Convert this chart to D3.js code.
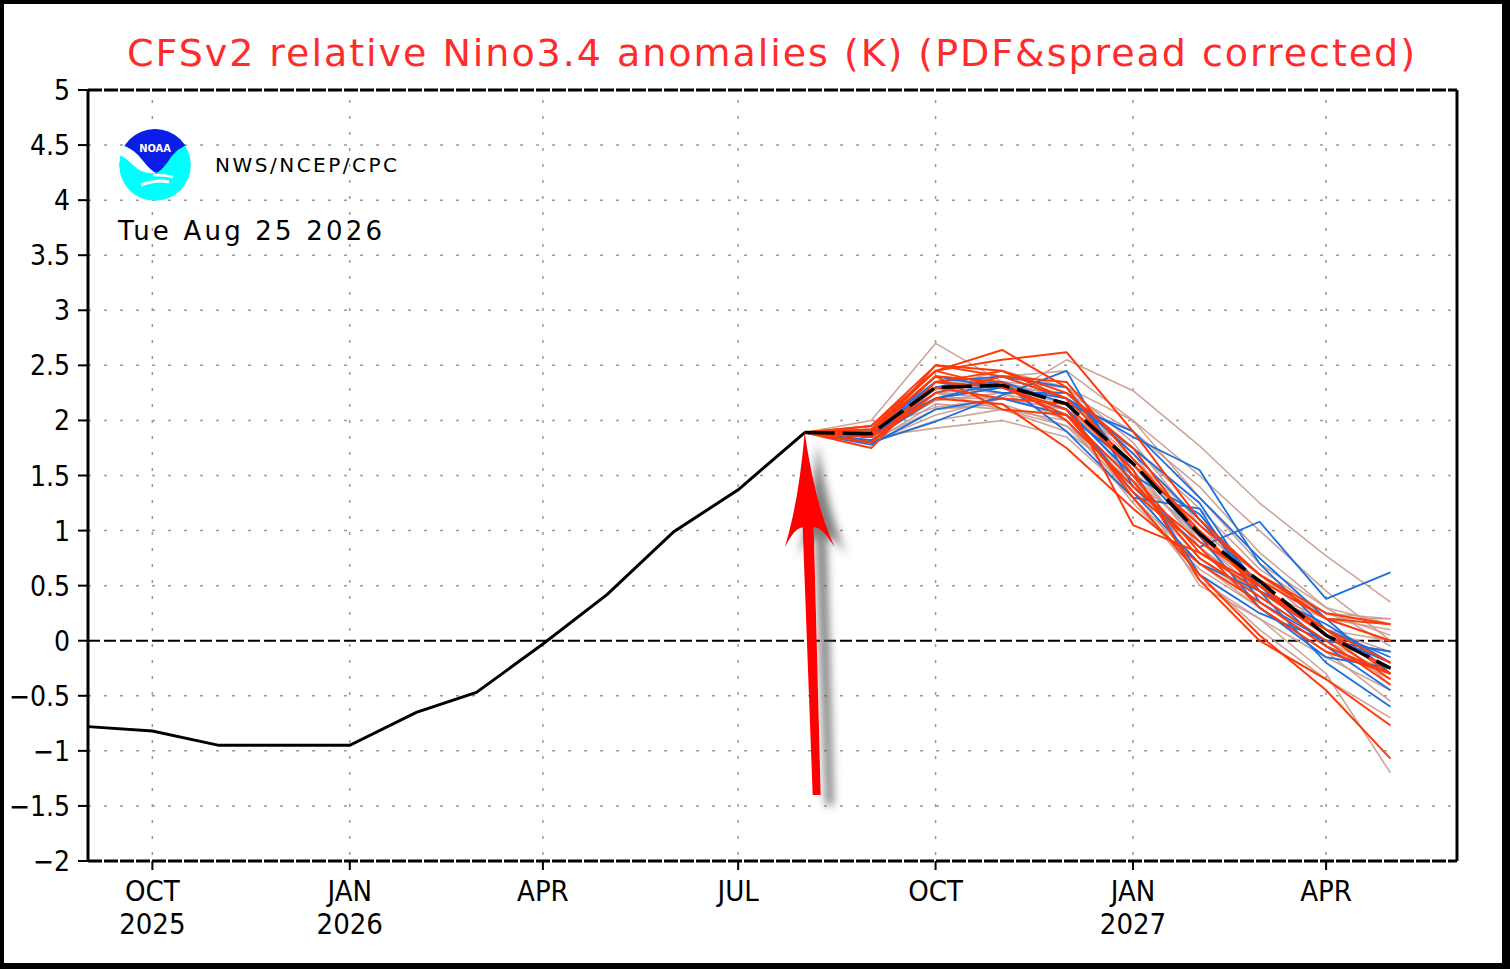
<!DOCTYPE html>
<html lang='en'>
  <head>
    <meta charset="utf-8">
    <title>CFSv2 Nino3.4</title>

    <style>
      body { margin: 0; background: #000000; }
      text {
            font-family: "DejaVu Sans Condensed", "DejaVu Sans", sans-serif;
            fill: #000000;
      }
    </style>

    <!-- Load d3.js -->
    <script src="https://d3js.org/d3.v7.min.js"></script>
  </head>

  <body>

    <div id="plume"></div>

  <script>

    // observed monthly anomalies (K)
    var obsMonths = ["2025-09", "2025-10", "2025-11", "2025-12", "2026-01", "2026-02",
                     "2026-03", "2026-04", "2026-05", "2026-06", "2026-07", "2026-08"];
    var obsValues = [-0.78, -0.82, -0.95, -0.95, -0.95, -0.65, -0.47, -0.03, 0.42, 0.99, 1.37, 1.89];

    // forecast months (first one is the last observed month)
    var fcstMonths = ["2026-08", "2026-09", "2026-10", "2026-11", "2026-12", "2027-01",
                      "2027-02", "2027-03", "2027-04", "2027-05"];
    var meanValues = [1.89, 1.88, 2.30, 2.32, 2.15, 1.61, 0.97, 0.54, 0.05, -0.25];

    // ensemble members, Sep 2026 .. May 2027
    var redMembers = [
      [1.95, 2.45, 2.64, 2.30, 1.50, 0.80, 0.45, 0.10, -0.30],
      [1.90, 2.45, 2.55, 2.62, 1.90, 1.10, 0.60, 0.20, 0.15],
      [1.85, 2.50, 2.40, 2.20, 1.05, 0.80, 0.50, 0.05, -0.35],
      [1.75, 2.35, 2.30, 2.10, 1.30, 0.60, 0.05, -0.45, -1.07],
      [1.80, 2.30, 2.20, 2.15, 1.55, 0.55, 0.00, -0.35, -0.77],
      [1.90, 2.40, 2.35, 2.00, 1.40, 0.90, 0.55, 0.20, 0.00],
      [1.95, 2.50, 2.45, 2.25, 1.75, 0.95, 0.50, 0.10, -0.20],
      [1.85, 2.20, 2.15, 1.75, 1.20, 0.70, 0.35, -0.05, -0.30],
      [1.80, 2.35, 2.45, 2.20, 1.60, 1.05, 0.60, 0.25, 0.15],
      [1.88, 2.40, 2.10, 2.05, 1.45, 0.75, 0.40, 0.00, -0.40],
      [1.92, 2.45, 2.30, 2.05, 1.35, 0.85, 0.30, -0.10, -0.30],
      [1.80, 2.25, 2.40, 2.35, 1.65, 1.00, 0.45, 0.05, -0.25]
    ];
    var blueMembers = [
      [1.80, 1.99, 2.23, 2.45, 1.40, 0.85, 1.08, 0.38, 0.62],
      [1.85, 2.35, 2.40, 2.20, 1.75, 1.25, 0.45, 0.15, -0.20],
      [1.90, 2.30, 2.30, 2.10, 1.50, 1.15, 0.50, -0.05, -0.45],
      [1.82, 2.20, 2.35, 1.90, 1.30, 1.20, 0.35, 0.00, -0.10],
      [1.85, 2.40, 2.30, 2.20, 1.85, 1.55, 0.70, 0.10, -0.15],
      [1.78, 2.10, 2.20, 2.05, 1.60, 0.95, 0.30, -0.15, -0.25],
      [1.90, 2.35, 2.25, 2.25, 1.70, 1.10, 0.50, 0.05, -0.20],
      [1.85, 2.25, 2.40, 2.30, 1.55, 0.60, 0.25, 0.00, -0.10],
      [1.85, 2.30, 2.35, 2.15, 1.90, 1.30, 0.75, 0.20, -0.30],
      [1.90, 2.20, 2.30, 2.10, 1.35, 0.70, 0.45, -0.20, -0.60]
    ];
    var brownMembers = [
      [2.00, 2.70, 2.35, 2.20, 1.70, 0.90, 0.50, 0.10, 0.00],
      [1.85, 1.93, 2.00, 1.85, 1.30, 0.70, 0.30, -0.10, -0.55],
      [1.90, 2.20, 2.20, 2.55, 2.27, 1.77, 1.25, 0.77, 0.35],
      [1.85, 2.30, 2.25, 2.10, 1.60, 0.85, 0.45, 0.20, 0.20],
      [1.90, 2.25, 2.20, 2.10, 1.50, 0.95, 0.55, 0.25, 0.20],
      [1.80, 2.15, 2.10, 2.00, 1.30, 0.55, 0.20, -0.30, -1.20],
      [1.95, 2.35, 2.30, 2.20, 1.65, 1.10, 0.60, 0.20, 0.10],
      [1.82, 2.10, 2.15, 1.95, 1.35, 0.85, 0.40, 0.00, -0.30],
      [1.88, 2.28, 2.35, 2.30, 1.80, 1.05, 0.50, 0.10, -0.10],
      [1.90, 2.20, 2.30, 2.15, 1.45, 0.50, 0.20, -0.15, -0.45],
      [1.86, 2.40, 2.35, 2.10, 1.55, 0.90, 0.45, 0.05, -0.20],
      [1.92, 2.12, 2.20, 2.05, 1.40, 0.75, 0.35, -0.05, -0.35],
      [1.80, 2.05, 2.20, 2.10, 1.75, 1.20, 0.65, 0.25, 0.05],
      [1.90, 2.30, 2.40, 2.45, 2.00, 1.30, 0.70, 0.30, 0.15],
      [1.85, 2.18, 2.25, 2.00, 1.25, 0.65, 0.30, -0.10, -0.25],
      [1.88, 2.25, 2.10, 1.90, 1.45, 1.00, 0.60, 0.10, -0.40],
      [1.90, 2.30, 2.45, 2.30, 2.00, 1.50, 1.00, 0.45, 0.00],
      [1.85, 2.25, 2.30, 2.25, 1.90, 1.40, 0.80, 0.30, -0.05],
      [1.80, 2.00, 2.10, 1.95, 1.50, 0.60, 0.10, -0.35, -0.70]
    ];

    // axis ticks and labels
    var yTicks = [5, 4.5, 4, 3.5, 3, 2.5, 2, 1.5, 1, 0.5, 0, -0.5, -1, -1.5, -2];
    var xTickMonths = ["2025-10", "2026-01", "2026-04", "2026-07", "2026-10", "2027-01", "2027-04"];
    var xTickNames  = ["OCT", "JAN", "APR", "JUL", "OCT", "JAN", "APR"];
    var xTickYears  = ["2025", "2026", "", "", "", "2027", ""];

    var titleText = "CFSv2 relative Nino3.4 anomalies (K) (PDF&spread corrected)";
    var dateText = "Tue Aug 25 2026";

    // page and plot box
    var W = 1510, H = 969;
    var margin = {top: 90, right: 53, bottom: 108, left: 88},
        width = W - margin.left - margin.right,
        height = H - margin.top - margin.bottom;

    var parseMonth = d3.timeParse("%Y-%m");

    var svg = d3.select("#plume")
      .append("svg")
        .attr("width", W)
        .attr("height", H)
        .style("display", "block");

    // black outer border, white page
    svg.append("rect").attr("width", W).attr("height", H).attr("fill", "#000");
    svg.append("rect").attr("x", 4).attr("y", 4).attr("width", W - 12).attr("height", H - 10).attr("fill", "#fff");

    var defs = svg.append("defs");
    var shadow = defs.append("filter").attr("id", "shadow")
      .attr("x", "-50%").attr("y", "-20%").attr("width", "200%").attr("height", "140%");
    shadow.append("feDropShadow")
      .attr("dx", 13).attr("dy", 10).attr("stdDeviation", 4)
      .attr("flood-color", "#555").attr("flood-opacity", 0.75);

    var g = svg.append("g")
      .attr("transform", "translate(" + margin.left + "," + margin.top + ")");

    // scales
    var x = d3.scaleTime()
      .domain([parseMonth("2025-09"), parseMonth("2027-06")])
      .range([0, width]);
    var y = d3.scaleLinear()
      .domain([-2, 5])
      .range([height, 0]);

    // dotted grid
    g.append("g").selectAll("line")
      .data(yTicks.filter(function(d) { return d !== 0 && d !== 5 && d !== -2; }))
      .enter().append("line")
        .attr("x1", 0).attr("x2", width)
        .attr("y1", function(d) { return y(d); })
        .attr("y2", function(d) { return y(d); })
        .attr("stroke", "#9a9a9a").attr("stroke-width", 1.5)
        .attr("stroke-dasharray", "3,13");
    g.append("g").selectAll("line")
      .data(xTickMonths)
      .enter().append("line")
        .attr("x1", function(d) { return x(parseMonth(d)); })
        .attr("x2", function(d) { return x(parseMonth(d)); })
        .attr("y1", 0).attr("y2", height)
        .attr("stroke", "#9a9a9a").attr("stroke-width", 1.5)
        .attr("stroke-dasharray", "3,13")
        .attr("stroke-dashoffset", -10);

    // zero line
    g.append("line")
      .attr("x1", 0).attr("x2", width)
      .attr("y1", y(0)).attr("y2", y(0))
      .attr("stroke", "#000").attr("stroke-width", 2)
      .attr("stroke-dasharray", "12,4");

    // the lines
    var line = d3.line()
      .x(function(d) { return x(d.date); })
      .y(function(d) { return y(d.value); });

    function memberPoints(vals) {
      var all = [obsValues[obsValues.length - 1]].concat(vals);
      return all.map(function(v, i) { return {date: parseMonth(fcstMonths[i]), value: v}; });
    }

    var plume = g.append("g").attr("fill", "none").attr("stroke-linejoin", "round");
    plume.selectAll(".brown")
      .data(brownMembers)
      .enter().append("path")
        .attr("d", function(d) { return line(memberPoints(d)); })
        .attr("stroke", "#c99a8e").attr("stroke-width", 1.6).attr("opacity", 0.9);
    plume.selectAll(".blue")
      .data(blueMembers)
      .enter().append("path")
        .attr("d", function(d) { return line(memberPoints(d)); })
        .attr("stroke", "#1c6fe0").attr("stroke-width", 1.8);
    plume.selectAll(".red")
      .data(redMembers)
      .enter().append("path")
        .attr("d", function(d) { return line(memberPoints(d)); })
        .attr("stroke", "#ff3a0a").attr("stroke-width", 2);

    // ensemble mean
    g.append("path")
      .datum(meanValues.map(function(v, i) { return {date: parseMonth(fcstMonths[i]), value: v}; }))
      .attr("d", line)
      .attr("fill", "none").attr("stroke", "#000").attr("stroke-width", 3.5)
      .attr("stroke-dasharray", "30,8");

    // observed
    g.append("path")
      .datum(obsValues.map(function(v, i) { return {date: parseMonth(obsMonths[i]), value: v}; }))
      .attr("d", line)
      .attr("fill", "none").attr("stroke", "#000").attr("stroke-width", 3);

    // frame
    g.append("line").attr("x1", 0).attr("x2", 0).attr("y1", 0).attr("y2", height)
      .attr("stroke", "#000").attr("stroke-width", 3);
    g.append("line").attr("x1", width).attr("x2", width).attr("y1", 0).attr("y2", height)
      .attr("stroke", "#000").attr("stroke-width", 3);
    g.append("line").attr("x1", 0).attr("x2", width).attr("y1", 0).attr("y2", 0)
      .attr("stroke", "#000").attr("stroke-width", 3).attr("stroke-dasharray", "14,2");
    g.append("line").attr("x1", 0).attr("x2", width).attr("y1", height).attr("y2", height)
      .attr("stroke", "#000").attr("stroke-width", 3).attr("stroke-dasharray", "14,2");

    // y axis ticks and labels
    var yAxis = g.append("g");
    yAxis.selectAll("line").data(yTicks).enter().append("line")
      .attr("x1", -10).attr("x2", 0)
      .attr("y1", function(d) { return y(d); }).attr("y2", function(d) { return y(d); })
      .attr("stroke", "#000").attr("stroke-width", 2);
    yAxis.selectAll("text").data(yTicks).enter().append("text")
      .attr("x", -18)
      .attr("y", function(d) { return y(d) + 10; })
      .attr("text-anchor", "end")
      .style("font-size", "28px")
      .text(function(d) { return d < 0 ? "\u2212" + Math.abs(d) : d; });

    // x axis ticks and labels
    var xAxis = g.append("g");
    xAxis.selectAll("line").data(xTickMonths).enter().append("line")
      .attr("x1", function(d) { return x(parseMonth(d)); })
      .attr("x2", function(d) { return x(parseMonth(d)); })
      .attr("y1", height).attr("y2", height + 9)
      .attr("stroke", "#000").attr("stroke-width", 2);
    xAxis.selectAll(".mon").data(xTickMonths).enter().append("text")
      .attr("x", function(d) { return x(parseMonth(d)); })
      .attr("y", height + 40)
      .attr("text-anchor", "middle")
      .style("font-size", "29px")
      .text(function(d, i) { return xTickNames[i]; });
    xAxis.selectAll(".yr").data(xTickMonths).enter().append("text")
      .attr("x", function(d) { return x(parseMonth(d)); })
      .attr("y", height + 73)
      .attr("text-anchor", "middle")
      .style("font-size", "29px")
      .text(function(d, i) { return xTickYears[i]; });

    // red arrow pointing at the start of the forecast
    var tip = [x(parseMonth("2026-08")), y(obsValues[obsValues.length - 1])];
    var tail = [tip[0] + 12, y(-1.4)];
    var headY = tip[1] + 95;
    var arrowPath = d3.path();
    arrowPath.moveTo(tip[0], tip[1]);
    arrowPath.quadraticCurveTo(tip[0] + 10, tip[1] + 70, tip[0] + 30, headY + 20);
    arrowPath.quadraticCurveTo(tip[0] + 18, headY, tip[0] + 9, headY);
    arrowPath.lineTo(tail[0] + 4, tail[1]);
    arrowPath.lineTo(tail[0] - 4, tail[1]);
    arrowPath.lineTo(tip[0] - 2, headY);
    arrowPath.quadraticCurveTo(tip[0] - 10, headY, tip[0] - 20, headY + 20);
    arrowPath.quadraticCurveTo(tip[0] - 6, tip[1] + 70, tip[0], tip[1]);
    arrowPath.closePath();
    g.append("path")
      .attr("d", arrowPath.toString())
      .attr("fill", "#ff0000")
      .attr("filter", "url(#shadow)");

    // title
    svg.append("text")
      .attr("x", 127).attr("y", 66)
      .attr("textLength", 1288).attr("lengthAdjust", "spacing")
      .style("font-family", "'DejaVu Sans', sans-serif")
      .style("font-size", "38px")
      .style("fill", "#ff2b2b")
      .text(titleText);

    // NOAA logo
    var logo = svg.append("g").attr("transform", "translate(155,165)");
    defs.append("clipPath").attr("id", "logoClip")
      .append("circle").attr("r", 36);
    var lg = logo.append("g").attr("clip-path", "url(#logoClip)");
    lg.append("circle").attr("r", 36).attr("fill", "#00ffff");
    lg.append("path")
      .attr("d", "M-40,-22 L-20,-40 L20,-40 L40,-22 Q22,-20 12,-2 Q6,6 1,8 Q-4,6 -12,-4 Q-22,-18 -40,-22 Z")
      .attr("fill", "#0a1ee6");
    lg.append("path")
      .attr("d", "M-40,-22 Q-22,-18 -12,-4 Q-4,6 1,8 Q-12,10 -22,0 Q-32,-10 -40,-12 Z")
      .attr("fill", "#fff");
    lg.append("path")
      .attr("d", "M-14,20 Q2,14 14,17")
      .attr("fill", "none").attr("stroke", "#fff").attr("stroke-width", 3);
    lg.append("path")
      .attr("d", "M-2,10 Q10,10 18,12")
      .attr("fill", "none").attr("stroke", "#fff").attr("stroke-width", 2.5);
    logo.append("text")
      .attr("x", 0).attr("y", -13)
      .attr("text-anchor", "middle")
      .style("font-size", "11px").style("font-weight", "bold")
      .style("fill", "#fff")
      .text("NOAA");

    svg.append("text")
      .attr("x", 215).attr("y", 172)
      .attr("textLength", 182).attr("lengthAdjust", "spacing")
      .style("font-family", "'DejaVu Sans', sans-serif")
      .style("font-size", "20px")
      .text("NWS/NCEP/CPC");

    svg.append("text")
      .attr("x", 118).attr("y", 240)
      .attr("textLength", 264).attr("lengthAdjust", "spacing")
      .style("font-family", "'DejaVu Sans', sans-serif")
      .style("font-size", "26px")
      .text(dateText);

  </script>

  </body>

</html>
